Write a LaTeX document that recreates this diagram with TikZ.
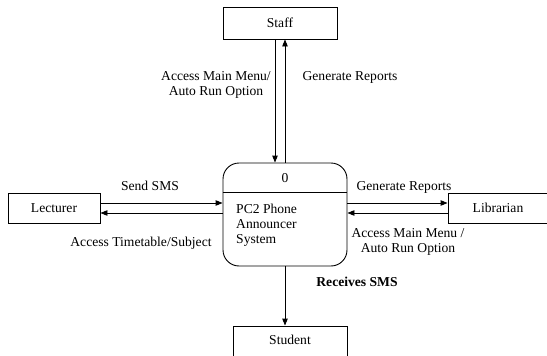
\documentclass[tikz,border=0pt]{standalone}
\usepackage{fontspec}
\setmainfont{Liberation Serif}
\usetikzlibrary{arrows.meta}
\begin{document}
\begin{tikzpicture}[x=1pt,y=-1pt,
  every node/.style={font=\fontsize{13.6}{15}\selectfont},
  entity/.style={draw,line width=0.9pt,minimum height=30pt,inner sep=0pt},
  procbox/.style={draw,line width=0.9pt,rounded corners=16pt,minimum width=124pt,minimum height=103pt,inner sep=0pt},
  flow/.style={line width=0.9pt,-{Triangle[length=7pt,width=5.5pt]}},
  lbl/.style={inner sep=0pt,align=center}]
\useasboundingbox (0,0) rectangle (547,356);
\fill[white] (0,0) rectangle (547,356);

% external entities
\node[entity,minimum width=114pt,minimum height=32pt] (staff) at (280,23) {Staff};
\node[entity,minimum width=92pt] (lect) at (54,208) {Lecturer};
\node[entity,minimum width=100pt] (lib) at (498,208) {Librarian};
\node[entity,minimum width=114pt,minimum height=40pt] (stud) at (290,346) {};
\node[lbl] at (290,340) {Student};

% process
\node[procbox] (proc) at (285,214.5) {};
\draw[line width=0.9pt] (proc.west |- 0,192) coordinate (dl) -- (proc.east |- 0,192) coordinate (dr);
\node[lbl] (pnum) at (285,178) {0};
\node[lbl,align=left,anchor=north west] (pname) at (236,204) {PC2 Phone\\Announcer\\System};

% flows with staff
\draw[flow] ([xshift=-5pt]staff.south) -- ([xshift=-5pt]staff.south |- proc.north);
\draw[flow] ([xshift=5pt]staff.south |- proc.north) -- ([xshift=5pt]staff.south);
\node[lbl] at (216,84.5) {Access Main Menu/\\Auto Run Option};
\node[lbl] at (350,77) {Generate Reports};

% flows with lecturer
\draw[flow] ([yshift=5pt]lect.east) -- ([yshift=5pt]lect.east -| proc.west);
\draw[flow] ([yshift=-5pt]lect.east -| proc.west) -- ([yshift=-5pt]lect.east);
\node[lbl] at (150,186) {Send SMS};
\node[lbl] at (141,243) {Access Timetable/Subject};

% flows with librarian
\draw[flow] ([yshift=5pt]lib.west -| proc.east) -- ([yshift=5pt]lib.west);
\draw[flow] ([yshift=-5pt]lib.west) -- ([yshift=-5pt]lib.west -| proc.east);
\node[lbl] at (404,187) {Generate Reports};
\node[lbl] at (408,242) {Access Main Menu /\\Auto Run Option};

% flow to student
\draw[flow] (proc.south) -- (proc.south |- stud.north);
\node[lbl,font=\fontsize{13.6}{15}\selectfont\bfseries] at (357,282) {Receives SMS};
\end{tikzpicture}
\end{document}
